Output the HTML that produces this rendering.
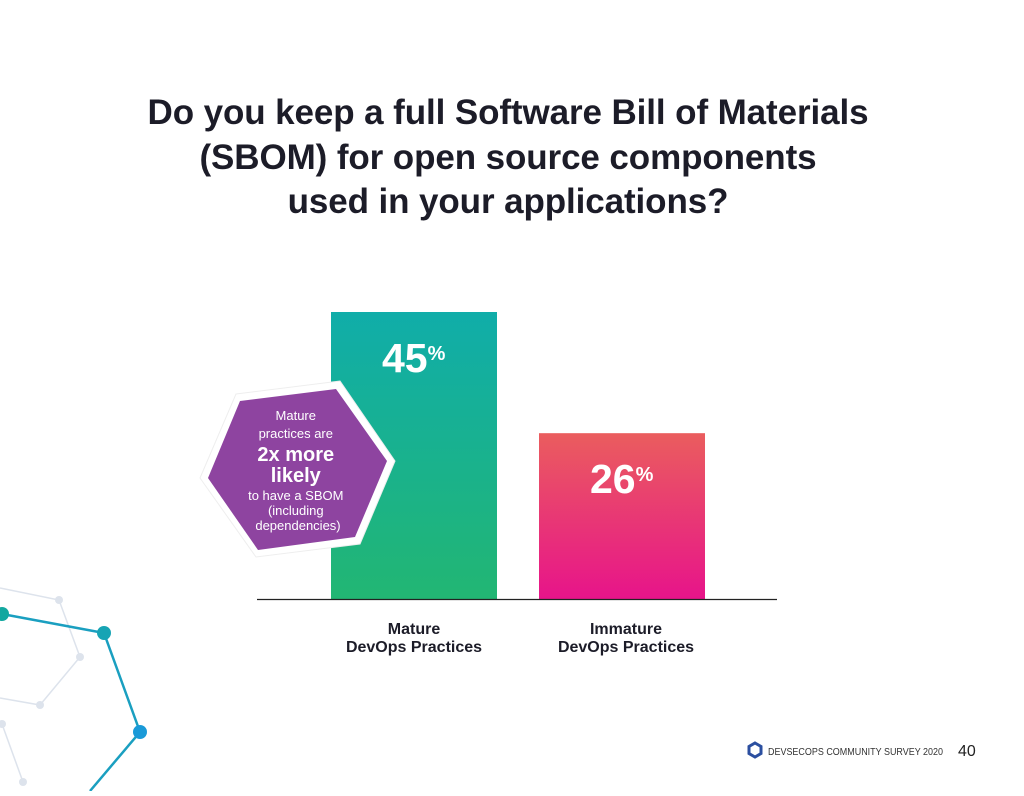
<!DOCTYPE html>
<html><head><meta charset="utf-8"><style>
html,body{margin:0;padding:0;background:#fff}
body{width:1024px;height:791px;position:relative;overflow:hidden;font-family:"Liberation Sans",sans-serif}
</style></head><body>
<svg width="1024" height="791" viewBox="0 0 1024 791" xmlns="http://www.w3.org/2000/svg">
<defs>
<linearGradient id="g1" x1="0" y1="0" x2="0" y2="1"><stop offset="0" stop-color="#10ADA9"/><stop offset="1" stop-color="#22B673"/></linearGradient>
<linearGradient id="g2" x1="0" y1="0" x2="0" y2="1"><stop offset="0" stop-color="#EA5D5E"/><stop offset="1" stop-color="#E7148A"/></linearGradient>
</defs>
<g>
<polyline points="0,588 59,600 80,657 40,705 0,698" fill="none" stroke="#dde3ec" stroke-width="1.5"/>
<polyline points="2,724 23,782" fill="none" stroke="#dde3ec" stroke-width="1.5"/>
<circle cx="59" cy="600" r="4" fill="#dde3ec"/><circle cx="80" cy="657" r="4" fill="#dde3ec"/><circle cx="40" cy="705" r="4" fill="#dde3ec"/><circle cx="2" cy="724" r="4" fill="#dde3ec"/><circle cx="23" cy="782" r="4" fill="#dde3ec"/>
<polyline points="2,614 104,633 140,732 90,791" fill="none" stroke="#1a9fc0" stroke-width="2.5"/>
<circle cx="2" cy="614" r="7" fill="#13a8a0"/><circle cx="104" cy="633" r="7" fill="#17a4b4"/><circle cx="140" cy="732" r="7" fill="#1a9ad8"/>
</g>
<text font-family="Liberation Sans, sans-serif" font-weight="bold" font-size="35" fill="#1c1c28" text-anchor="middle" letter-spacing="-0.1"><tspan x="508" y="124">Do you keep a full Software Bill of Materials</tspan><tspan x="508" y="169">(SBOM) for open source components</tspan><tspan x="508" y="213">used in your applications?</tspan></text>
<g id="bars"></g>
<line x1="257" y1="599.5" x2="777" y2="599.5" stroke="#222" stroke-width="1.3"/>
<g>
<polygon points="236,394 340,381 395,461 360,544 256,557 200,478" fill="#fff" stroke="#eee" stroke-width="1"/>
<polygon points="240,401 336,389 387,461 355,537 258,550 208,478" fill="#8E44A0"/>
<text fill="#fff" text-anchor="middle" font-family="Liberation Sans, sans-serif">
<tspan x="298" y="420" font-size="13">Mature</tspan>
<tspan x="298" y="438" font-size="13">practices are</tspan>
<tspan x="298" y="461" font-size="20" font-weight="bold">2x more</tspan>
<tspan x="298" y="482" font-size="20" font-weight="bold">likely</tspan>
<tspan x="298" y="500" font-size="13">to have a SBOM</tspan>
<tspan x="298" y="515" font-size="13">(including</tspan>
<tspan x="298" y="530" font-size="13">dependencies)</tspan>
</text>
</g>
<g>
<polygon points="755,743 761,746.5 761,753.5 755,757 749,753.5 749,746.5" fill="none" stroke="#2b4fa0" stroke-width="3"/>
<text x="768" y="755" font-size="10" fill="#333" font-family="Liberation Sans, sans-serif" textLength="175" lengthAdjust="spacingAndGlyphs">DEVSECOPS COMMUNITY SURVEY 2020</text>
<text x="958" y="756" font-size="16" fill="#222" font-family="Liberation Sans, sans-serif">40</text>
</g>
</svg>
<script>
const categories=["Mature DevOps Practices","Immature DevOps Practices"];
const labelLines=[["Mature","DevOps Practices"],["Immature","DevOps Practices"]];
const values=[45,26];
const fills=["url(#g1)","url(#g2)"];
const baseY=599, pxPer=287/45;
const y=v=>baseY-v*pxPer;
const x=i=>331+i*208;
const bw=166;
const ns="http://www.w3.org/2000/svg";
const g=document.getElementById('bars');
values.forEach((v,i)=>{
 const r=document.createElementNS(ns,'rect');
 r.setAttribute('x',x(i));r.setAttribute('y',y(v));r.setAttribute('width',bw);r.setAttribute('height',baseY-y(v));r.setAttribute('fill',fills[i]);
 
 
 g.appendChild(r);
 const t=document.createElementNS(ns,'text');
 t.setAttribute('x',x(i)+51);t.setAttribute('y',y(v)+60);t.setAttribute('fill','#fff');t.setAttribute('font-weight','bold');t.setAttribute('font-size','41');
 t.innerHTML=v+'<tspan font-size="20" dy="-12">%</tspan>';
 
 
 g.appendChild(t);
 const l=document.createElementNS(ns,'text');
 l.setAttribute('text-anchor','middle');l.setAttribute('font-size','16');l.setAttribute('fill','#1c1c28');l.setAttribute('font-weight','bold');
 const cx=x(i)+bw/2+i*4;
 l.innerHTML='<tspan x="'+cx+'" y="634">'+labelLines[i][0]+'</tspan><tspan x="'+cx+'" y="652">'+labelLines[i][1]+'</tspan>';
 
 
 g.appendChild(l);
});
</script>
</body></html>
